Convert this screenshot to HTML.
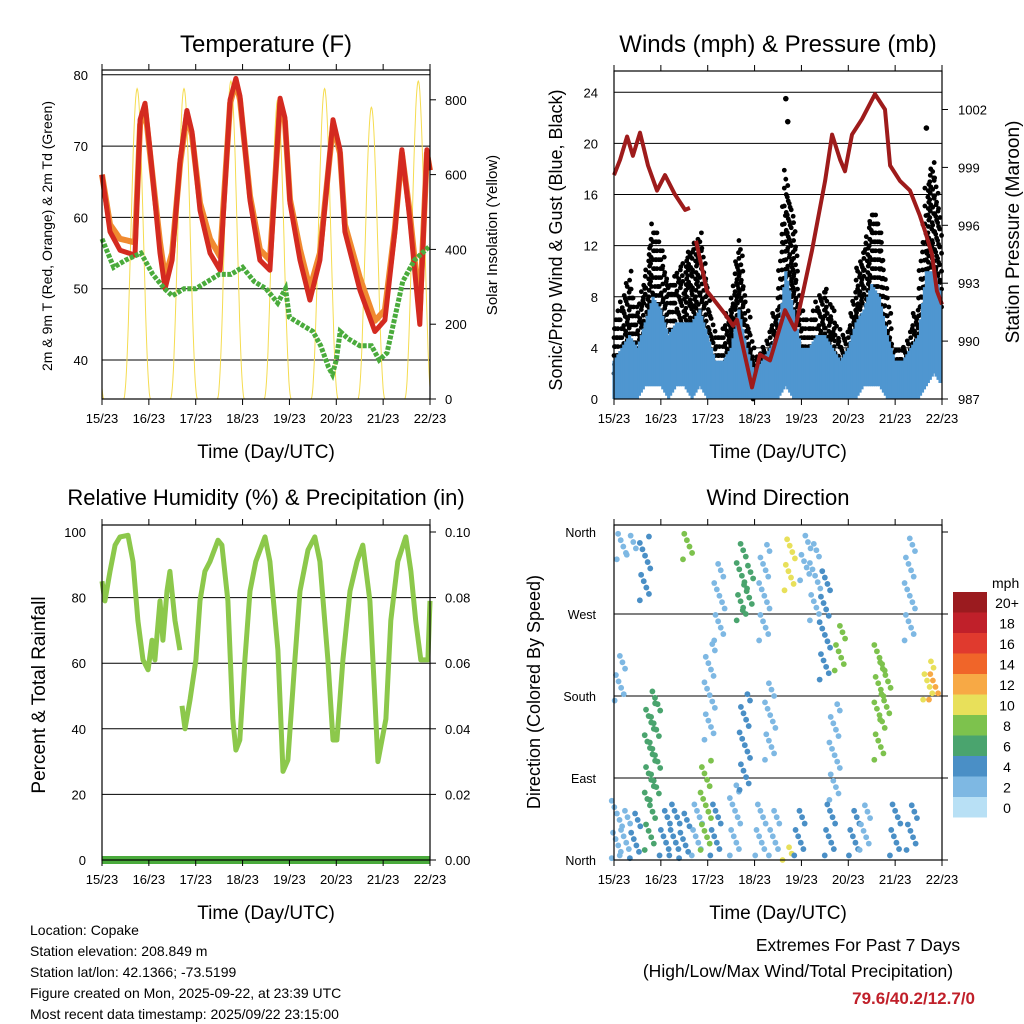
<!DOCTYPE html>
<html><head><meta charset="utf-8"><style>
body{margin:0;background:#fff;}
svg{display:block;font-family:"Liberation Sans",sans-serif;}
</style></head><body>
<svg id="c" width="1024" height="1024" viewBox="0 0 1024 1024"></svg>
<script>
// ---- data ----
const dayLabels=["15/23","16/23","17/23","18/23","19/23","20/23","21/23","22/23"];
const tempHours=[0,4.1,9.2,16.9,19.5,22,24.6,29.7,32.3,35.9,40,43.5,46.1,50.2,55.3,60.5,65.6,68.6,70.7,75.8,80.9,86,91.2,93.7,96.3,101.4,106.5,111.6,118.3,121.9,124.4,132.1,139.8,144.9,150,153.6,157.7,162.8,166.4,168];
const temp2m=[66,58,55.4,54.7,73.7,76,69.5,55,50,54,68,75,72,61,55,52.6,76.5,79.5,77,62.4,54,52.6,76.7,74,62,54,48.4,54,73.7,69.5,58,49.8,44,45.6,58,69.5,59.6,45,69.5,66.6];
const temp9m=[66,59,57,56.5,73,75.5,69,56.5,51.5,55,67.5,74.5,71.5,62,57,54.5,76,79,76.5,63,55.5,54,76,73.5,62.5,55.5,50,55,73,69,59,51.5,45.5,47,58.5,69,60.5,47,69,66.6];
const dewHours=[0,6,12,20,26,32,36,42,48,54,60,66,72,78,84,90,94,96,102,108,112,116,118,120,122,126,132,138,142,146,150,154,160,168];
const dewVals=[57,53,54,55,52,50,49,50,50,51,52,52,53,51,50,48,50,46,45,44,42,39,38,40,44,43,42,42,40,41,46,51,54,56];
const solarPeakHour=[-6,18,42,66,90,114,138,162];
const solarPeak=[820,830,830,850,800,830,780,850];
const presHours=[0,3.1,6.7,9.7,13.3,17.4,22,26.1,31.2,36.4,38.9,null,42,47.6,56.9,61,63,70.7,74.8,79.9,87.6,92.7,101.4,108.1,111.7,115.8,118.3,121.9,127,133.7,138.8,141.4,146.5,151.6,156.7,159.3,162.9,165.4,168];
const presVals=[998.6,999.4,1000.6,999.6,1000.8,999.1,997.8,998.6,997.6,996.8,996.9,null,995.2,992.6,991.4,990.8,991.1,987.6,989.3,989.0,991.6,990.6,994.7,998.3,1000.7,999.4,998.8,1000.7,1001.5,1002.8,1002.0,999.1,998.3,997.8,996.5,995.7,994.5,992.6,991.9];
const windHours=[0,4,8,12,16,20,24,28,32,36,40,44,48,52,56,60,64,68,72,76,80,84,88,92,96,100,104,108,112,116,120,124,128,132,136,140,144,148,152,156,160,164,168];
const gustLo=[2,2,3,3,4,6,6,4,4,5,4,6,4,2,2,3,4,2,0,1,2,3,6,4,2,2,2,3,2,1,2,3,4,6,6,3,1,1,2,3,6,8,6];
const gustHi=[6,8,10,7,10,14,12,9,10,11,12,13,9,5,6,8,13,8,3,4,6,8,18,14,7,6,8,9,7,5,6,10,12,15,14,8,4,4,6,8,17,19,14];
const sonicLo=[0,0,0,0,1,1,1,0,1,1,0,1,0,0,0,0,0,0,0,0,0,0,1,0,0,0,0,0,0,0,0,0,1,1,1,0,0,0,0,0,1,2,1];
const sonicHi=[3,4,5,4,6,8,7,5,6,6,6,7,5,3,3,4,7,4,2,3,4,5,10,7,4,4,5,5,4,3,4,6,7,9,8,5,3,3,4,5,10,10,8];
const gustSpikeHours=[88,89,160];
const gustSpikeVals=[23.5,21.7,21.2];
const rhHours=[0,1.5,4.1,6.7,9.2,13.3,15.9,18.4,21,23.6,25.6,27.1,29.7,31.2,33.3,34.8,37.4,39.9,null,41,42.5,45.1,48.1,50.2,52.7,55.3,59.4,61.4,64.5,67,68.6,70.6,73.2,75.8,78.8,83.5,86,90.1,92.7,95.2,98.8,101.4,105.5,109,111.6,115.7,118.3,120.3,123.4,127,130.6,133.6,137.2,139.8,141.3,145.4,147.9,151.5,155.6,158.2,160.7,163.3,166.9,168];
const rhVals=[85,79,88,96,98.5,99,91,73,61,58,67,61,79,67,82,88,73,64,null,47,40,49,61,79,88,91,97.5,96,79,43,33.5,36.6,61,82,91,98.5,91,64,27,30.5,61,82,94.5,98.5,91,61,36.6,36.6,61,82,91,96,79,49,30,43,73,91,98.5,88,73,61,61,79];
const precipTotal=[0,0];
const dirHours=[1.5,5.6,10.8,4.1,9.2,3,15.9,18.4,21,26,31,36,38,42.5,47,52,54,62,65.5,68.6,67,77,75,82,90,89,95,98,103,108,115.7,113,110.6,123,128.5,136,139,144,151.5,152.5,161,164,49,80];
const dirLo=[2,5,2,330,335,175,285,11,66,5,5,2,330,5,11,5,241,5,263,274,77,241,5,5,296,0,5,307,263,198,208,66,5,5,11,110,154,5,241,11,176,176,132,110];
const dirHi=[66,60,55,360,357,225,357,176,186,55,66,55,360,66,110,66,330,88,351,329,187,351,66,55,357,16,55,360,351,318,263,176,66,55,66,241,220,66,357,66,220,208,241,198];
const dirSpeed=[2,2,3,1,1,2,4,6,5,3,4,3,7,2,7,3,1,2,6,5,3,1,2,2,9,9,3,2,2,3,7,1,3,3,2,7,8,3,1,3,10,11,1,1];
const speedBins=["0","2","4","6","8","10","12","14","16","18","20+"];
const binColors=["#b8e0f5","#7eb8e3","#4a8fc6","#4aa46e","#7dc24d","#e8e05a","#f7a945","#f06529","#e03a2e","#c0202a","#9b1b1f"];
// ---- helpers ----
const S=document.getElementById('c');const NS='http://www.w3.org/2000/svg';
function mk(tag,at,parent){const e=document.createElementNS(NS,tag);for(const k in at)e.setAttribute(k,at[k]);(parent||S).appendChild(e);return e;}
function txt(x,y,s,size,anchor,rot,extra){const t=mk('text',{x:x,y:y,'font-size':size,'text-anchor':anchor||'middle',fill:'#000'});if(rot)t.setAttribute('transform','rotate(-90 '+x+' '+y+')');if(extra)for(const k in extra)t.setAttribute(k,extra[k]);t.textContent=s;return t;}
function panel(x0,y0,x1,y1){return{x0,y0,x1,y1,X:h=>x0+(h/168)*(x1-x0)};}
function pathFrom(hs,vs,X,Y){let d='',pen=false;for(let i=0;i<hs.length;i++){if(hs[i]===null){pen=false;continue;}d+=(pen?'L':'M')+X(hs[i]).toFixed(1)+','+Y(vs[i]).toFixed(1);pen=true;}return d;}
function frame(p,name){const r=mk('rect',{x:p.x0,y:p.y0,width:p.x1-p.x0,height:p.y1-p.y0,fill:'none',stroke:'#000','stroke-width':1.2});
 for(let i=0;i<dayLabels.length;i++){const x=p.X(i*24);mk('line',{x1:x,y1:p.y1,x2:x,y2:p.y1+6,stroke:'#000'});mk('line',{x1:x,y1:p.y0,x2:x,y2:p.y0-6,stroke:'#000'});
 const t=txt(x,p.y1+24,dayLabels[i],13);}
 const xt=txt((p.x0+p.x1)/2,p.y1+59,'Time (Day/UTC)',19);}
function grid(p,y){mk('line',{x1:p.x0,y1:y,x2:p.x1,y2:y,stroke:'#000','stroke-width':1});}
// ---- Panel 1 temperature ----
const p1=panel(102,70,430,399);const yT=t=>360-(t-40)*7.13;const ySol=v=>399-v*0.374;
[80,70,60,50,40].forEach(v=>{grid(p1,yT(v));const t=txt(88,yT(v)+5,v,13,'end');});
[0,200,400,600,800].forEach(v=>{mk('line',{x1:p1.x1,y1:ySol(v),x2:p1.x1+6,y2:ySol(v),stroke:'#000'});const t=txt(445,ySol(v)+5,v,13,'start');});
const solG=mk('g',{});
solarPeakHour.forEach((ph,i)=>{let d='';for(let k=-7;k<=7;k+=0.25){const h=ph+k;if(h<0||h>168)continue;const v=solarPeak[i]*Math.pow(Math.cos(k/7*Math.PI/2),2.2);d+=(d?'L':'M')+p1.X(h).toFixed(1)+','+ySol(v).toFixed(1);}if(d)mk('path',{d:d,fill:'none',stroke:'#f5dc50','stroke-width':1},solG);});
const o9=mk('path',{d:pathFrom(tempHours,temp9m,p1.X,yT),fill:'none',stroke:'#f08a30','stroke-width':6,'stroke-linejoin':'round'});
const r2=mk('path',{d:pathFrom(tempHours,temp2m,p1.X,yT),fill:'none',stroke:'#d42a20','stroke-width':5,'stroke-linejoin':'round'});
const dw=mk('path',{d:pathFrom(dewHours,dewVals,p1.X,yT),fill:'none',stroke:'#4aab3c','stroke-width':5,'stroke-dasharray':'4 1.5'});
frame(p1,'temperature');
let t;
t=txt(266,52,'Temperature (F)',24);
t=txt(52,236,'2m & 9m T (Red, Orange) & 2m Td (Green)',14,'middle',true);
t=txt(497,235,'Solar Insolation (Yellow)',15,'middle',true);
// ---- Panel 2 winds ----
const p2=panel(614,71,942,399);const yW=v=>399-v*12.78;const yP=v=>399-(v-987)*19.3;
[4,8,12,16,20,24].forEach(v=>grid(p2,yW(v)));
[0,4,8,12,16,20,24].forEach(v=>{t=txt(598,yW(v)+5,v,13,'end');});
[987,990,993,996,999,1002].forEach(v=>{mk('line',{x1:p2.x1,y1:yP(v),x2:p2.x1+6,y2:yP(v),stroke:'#000'});t=txt(958,yP(v)+5,v,13,'start');});
const gG=mk('g',{});
const bG=mk('g',{});
for(let i=0;i<windHours.length-1;i++){for(let k=0;k<4;k++){const h=windHours[i]+k;const x=p2.X(h);const f=k/4;
 const gl=gustLo[i]+(gustLo[i+1]-gustLo[i])*f,gh=gustHi[i]+(gustHi[i+1]-gustHi[i])*f;
 for(let v=gl;v<=gh;v+=0.7){mk('circle',{cx:x+(((k+Math.round(v*2))%3)-1)*1.5,cy:yW(v),r:2.4,fill:'#000'},gG);}
 const sl=sonicLo[i]+(sonicLo[i+1]-sonicLo[i])*f,sh=sonicHi[i]+(sonicHi[i+1]-sonicHi[i])*f;
 mk('line',{x1:x,y1:yW(sl),x2:x,y2:yW(sh),stroke:'#4f96d0','stroke-width':3.2},bG);}}
gustSpikeHours.forEach((h,i)=>mk('circle',{cx:p2.X(h),cy:yW(gustSpikeVals[i]),r:2.8,fill:'#000'},gG));
const pr=mk('path',{d:pathFrom(presHours,presVals,p2.X,yP),fill:'none',stroke:'#9e1b1b','stroke-width':4,'stroke-linejoin':'round'});
frame(p2,'winds');
t=txt(778,52,'Winds (mph) & Pressure (mb)',24);
t=txt(562,240,'Sonic/Prop Wind & Gust (Blue, Black)',18,'middle',true);
t=txt(1019,232,'Station Pressure (Maroon)',19,'middle',true);
// ---- Panel 3 RH ----
const p3=panel(102,525,430,860);const yR=v=>860-v*3.28;
[100,80,60,40,20,0].forEach((v,i)=>{if(v>0&&v<100)grid(p3,yR(v));t=txt(86,yR(v)+5,v,13,'end');
 mk('line',{x1:p3.x1,y1:yR(v),x2:p3.x1+6,y2:yR(v),stroke:'#000'});t=txt(445,yR(v)+5,(v/1000).toFixed(2),13,'start');});
const rh=mk('path',{d:pathFrom(rhHours,rhVals,p3.X,yR),fill:'none',stroke:'#8cc84b','stroke-width':5,'stroke-linejoin':'round'});
const pc=mk('path',{d:pathFrom([0,168],precipTotal.map(v=>v*1000),p3.X,yR),fill:'none',stroke:'#4aab3c','stroke-width':8});
frame(p3,'rh');
t=txt(266,505,'Relative Humidity (%) & Precipitation (in)',22);
t=txt(45,695,'Percent & Total Rainfall',19,'middle',true);
// ---- Panel 4 direction ----
const p4=panel(614,525,942,860);const yD=d=>860-d*(328/360);
const dirLabels=["North","East","South","West","North"];
dirLabels.forEach((s,i)=>{const y=yD(i*90);if(i>0&&i<4)grid(p4,y);mk('line',{x1:p4.x1,y1:y,x2:p4.x1+6,y2:y,stroke:'#000'});t=txt(596,y+5,s,12.5,'end');});
const dG=mk('g',{});
dirHours.forEach((h,i)=>{const col=binColors[Math.min(10,Math.floor(dirSpeed[i]/2+0.5))];let k=0;
 for(let d=dirLo[i];d<=dirHi[i];d+=7){mk('circle',{cx:p4.X(h)+(((k*7)%9)-4)*1.3,cy:yD(d),r:2.9,fill:col},dG);k++;}});
frame(p4,'direction');
t=txt(778,505,'Wind Direction',22);
t=txt(540,692,'Direction (Colored By Speed)',18,'middle',true);
// colorbar
t=txt(992,588,'mph',14,'start');
speedBins.forEach((s,i)=>{const y=797-i*20.5;const r=mk('rect',{x:953,y:y,width:34,height:20.5,fill:binColors[i]});
 t=txt(1007,y+16,s,14,'middle');});
// footer
["Location: Copake","Station elevation: 208.849 m","Station lat/lon: 42.1366; -73.5199","Figure created on Mon, 2025-09-22, at 23:39 UTC","Most recent data timestamp: 2025/09/22 23:15:00"].forEach((s,i)=>{t=txt(30,935+i*21,s,14,'start');});
t=txt(858,951,'Extremes For Past 7 Days',17.5);
t=txt(798,977,'(High/Low/Max Wind/Total Precipitation)',17.5);
t=txt(975,1004,'79.6/40.2/12.7/0',17,'end',false,{'font-weight':'bold',fill:'#c0202a'});
</script>
</body></html>
